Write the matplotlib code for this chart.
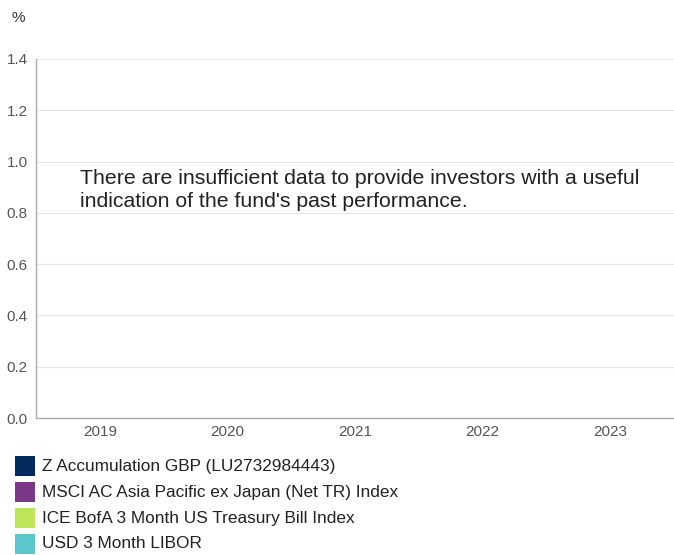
import matplotlib
matplotlib.use("Agg")
from matplotlib import pyplot
from matplotlib.patches import Rectangle

years = ["2019", "2020", "2021", "2022", "2023"]
yticks = [0.0, 0.2, 0.4, 0.6, 0.8, 1.0, 1.2, 1.4]
series_labels = [
    "Z Accumulation GBP (LU2732984443)",
    "MSCI AC Asia Pacific ex Japan (Net TR) Index",
    "ICE BofA 3 Month US Treasury Bill Index",
    "USD 3 Month LIBOR",
]
series_colors = ["#002b5c", "#7b3889", "#bde55a", "#5bc7cc"]
message = ("There are insufficient data to provide investors with a useful\n"
           "indication of the fund's past performance.")


def main():
    pyplot.rcParams['font.family'] = ['Liberation Sans', 'DejaVu Sans']
    W, H = 674, 555
    fig = pyplot.figure(figsize=(W / 100, H / 100), dpi=100)

    left, right, top, bottom = 36, 674, 59, 418
    ax = fig.add_axes([left / W, (H - bottom) / H, (right - left) / W, (bottom - top) / H])
    ax.set_xlim(-0.5, len(years) - 0.5)
    ax.set_ylim(0, 1.4)
    ax.set_xticks(range(len(years)))
    ax.set_xticklabels(years)
    ax.set_yticks(yticks)
    ax.set_yticklabels([f"{v:.1f}" for v in yticks])
    ax.tick_params(axis='both', length=0, labelsize=11, labelcolor='#555555')
    ax.tick_params(axis='y', pad=6)
    ax.tick_params(axis='x', pad=5)
    ax.grid(axis='y', color='#e6e6e6', linewidth=0.8)
    ax.set_axisbelow(True)
    for side in ['top', 'right']:
        ax.spines[side].set_visible(False)
    for side in ['left', 'bottom']:
        ax.spines[side].set_color('#aaaaaa')
        ax.spines[side].set_linewidth(1)

    fig.text(12 / W, 1 - 18 / H, "%", fontsize=11, color='#333333', va='center')

    fig.text(80 / W, 1 - 190 / H, message, fontsize=15.3, color='#222222',
             va='center', ha='left', linespacing=1.3)

    # legend
    for i, (lab, col) in enumerate(zip(series_labels, series_colors)):
        yc = 466 + 26 * i
        fig.patches.append(Rectangle((15 / W, 1 - (yc + 10) / H), 20 / W, 20 / H,
                                     transform=fig.transFigure, facecolor=col,
                                     edgecolor='none'))
        fig.text(42 / W, 1 - yc / H, lab, fontsize=12.4, color='#222222', va='center')

    fig.savefig("out.png", dpi=100)
    pyplot.close(fig)


if __name__ == "__main__":
    main()
